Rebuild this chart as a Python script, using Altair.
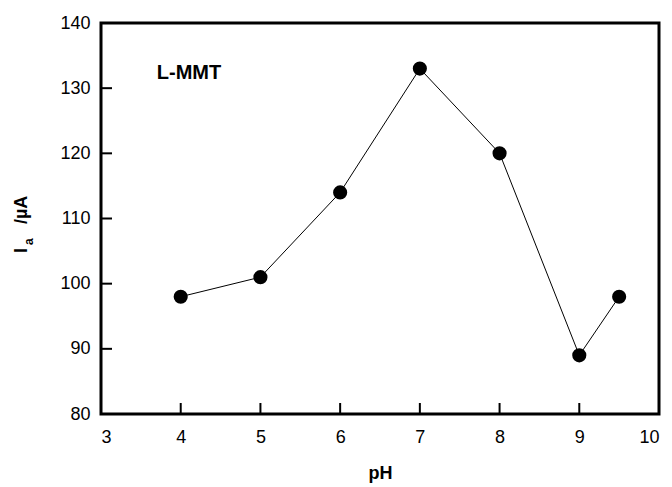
import altair as alt
import pandas as pd

ph = [4, 5, 6, 7, 8, 9, 9.5]
current = [98, 101, 114, 133, 120, 89, 98]
x_ticks = [4, 5, 6, 7, 8, 9]
y_ticks = [90, 100, 110, 120, 130]
label_text = ["L-MMT"]
label_x = [3.7]
label_y = [132.3]

df = pd.DataFrame({"pH": ph, "I": current})
W, H = 558, 391

xs = alt.Scale(domain=[3, 10], nice=False, zero=False)
ys = alt.Scale(domain=[80, 140], nice=False, zero=False)
font = "Liberation Sans"

xax = alt.Axis(values=[3, 4, 5, 6, 7, 8, 9, 10], format="d", ticks=False, domain=False,
               grid=False, labelFontSize=18, labelFont=font, labelColor="black",
               labelPadding=14, title="pH", titleFont=font, titleFontSize=18,
               titleFontWeight="bold", titleColor="black", titlePadding=18)
yax = alt.Axis(values=[80, 90, 100, 110, 120, 130, 140], format="d", ticks=False, domain=False,
               grid=False, labelFontSize=18, labelFont=font, labelColor="black",
               labelPadding=11, title=None)

base = alt.Chart(df)
line = base.mark_line(color="black", strokeWidth=1).encode(
    x=alt.X("pH:Q", scale=xs, axis=xax),
    y=alt.Y("I:Q", scale=ys, axis=yax),
)
pts = base.mark_circle(color="black", opacity=1, size=200).encode(
    x=alt.X("pH:Q", scale=xs), y=alt.Y("I:Q", scale=ys)
)

xt = alt.Chart(pd.DataFrame({"t": x_ticks})).mark_rule(color="black", strokeWidth=2).encode(
    x=alt.X("t:Q", scale=xs), y=alt.value(H), y2=alt.value(H - 11)
)
yt = alt.Chart(pd.DataFrame({"t": y_ticks})).mark_rule(color="black", strokeWidth=2).encode(
    y=alt.Y("t:Q", scale=ys), x=alt.value(0), x2=alt.value(11)
)

lab = alt.Chart(pd.DataFrame({"x": label_x, "y": label_y, "t": label_text})).mark_text(
    align="left", baseline="middle", font=font, fontSize=20, fontWeight="bold", color="black"
).encode(x=alt.X("x:Q", scale=xs), y=alt.Y("y:Q", scale=ys), text="t:N")

# y-axis title with subscript, rotated
tdf = pd.DataFrame({"t": ["I"]})
t1 = alt.Chart(tdf).mark_text(angle=270, align="left", baseline="alphabetic", font=font,
                              fontSize=18, fontWeight="bold", color="black").encode(
    x=alt.value(-74), y=alt.value(230), text=alt.value("I"))
t2 = alt.Chart(tdf).mark_text(angle=270, align="left", baseline="alphabetic", font=font,
                              fontSize=12, fontWeight="bold", color="black").encode(
    x=alt.value(-68), y=alt.value(222), text=alt.value("a"))
t3 = alt.Chart(tdf).mark_text(angle=270, align="left", baseline="alphabetic", font=font,
                              fontSize=18, fontWeight="bold", color="black").encode(
    x=alt.value(-74), y=alt.value(201), text=alt.value("/µA"))

chart = alt.layer(line, pts, xt, yt, lab, t1, t2, t3).properties(
    width=W, height=H,
    background="white",
    autosize=alt.AutoSizeParams(type="none"),
    padding={"left": 93, "top": 15, "right": 5, "bottom": 70},
).configure_view(stroke="black", strokeWidth=3)

chart.save("out.html", embed_options={"renderer": "svg", "actions": False})
